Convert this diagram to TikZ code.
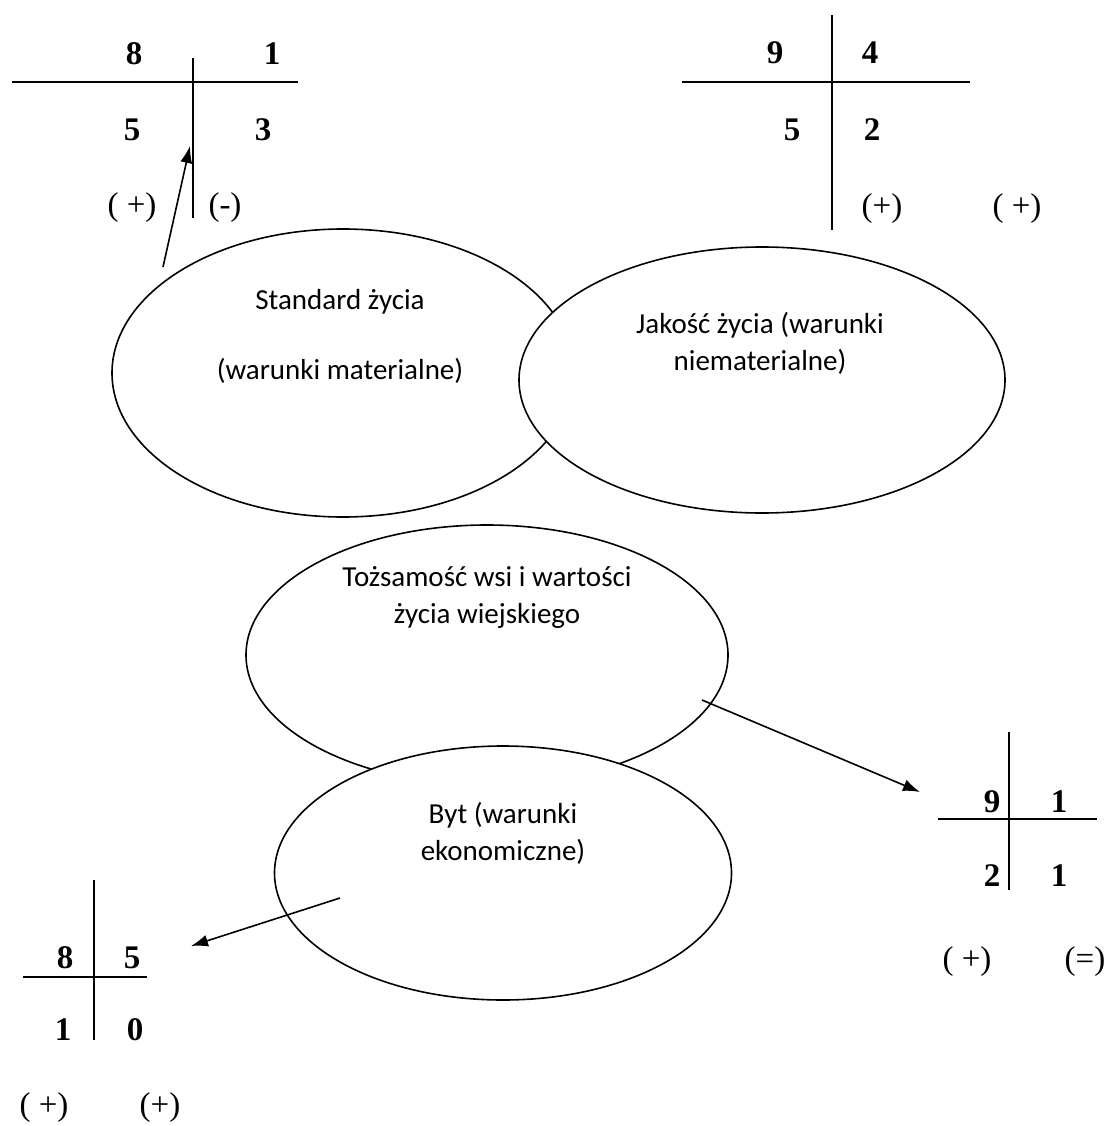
\documentclass[tikz,border=0pt]{standalone}
\usepackage{fontspec}
\setmainfont{Liberation Serif}
\newfontfamily\ovalfont{Carlito}
\usetikzlibrary{arrows.meta,shapes.geometric}
\tikzset{
  ovalshape/.style={ellipse, draw=black, line width=1.6pt, fill=white,
    inner sep=0pt},
  ovaltext/.style={align=center, inner sep=0pt,
    font=\ovalfont\fontsize{29}{37}\selectfont},
  chartline/.style={line width=1.6pt, draw=black},
  chartnum/.style={inner sep=0pt, font=\fontsize{33}{33}\selectfont\bfseries},
  chartsign/.style={inner sep=0pt, font=\fontsize{33}{33}\selectfont},
  linkarrow/.style={-{Latex[length=17pt,width=12pt]}, line width=1.6pt,
    draw=black}
}

\begin{document}
\begin{tikzpicture}[x=1pt, y=-1pt]
  \useasboundingbox (0,0) rectangle (1110,1126);

  \node[ovalshape, minimum width=462pt, minimum height=288pt] (standard)
    at (343,373) {};
  \node[ovalshape, minimum width=486pt, minimum height=266pt] (jakosc)
    at (762,380) {};
  \node[ovalshape, minimum width=482pt, minimum height=260pt] (tozsamosc)
    at (487,655) {};
  \node[ovalshape, minimum width=457pt, minimum height=254pt] (byt)
    at (503,873) {};

  \node[ovaltext] (standardtxt) at (340,336)
    {Standard życia\\[33pt](warunki materialne)};
  \node[ovaltext] (jakosctxt) at (760,343)
    {Jakość życia (warunki\\niematerialne)};
  \node[ovaltext] (tozsamosctxt) at (487,597)
    {Tożsamość wsi i wartości\\życia wiejskiego};
  \node[ovaltext] (byttxt) at (503,833)
    {Byt (warunki\\ekonomiczne)};

  % tabela lewa gorna
  \draw[chartline] (12,82) -- (298,82);
  \draw[chartline] (193,58) -- (193,218);
  \node[chartnum] (ltA) at (134,54) {8};
  \node[chartnum] (ltB) at (272,54) {1};
  \node[chartnum] (ltC) at (132,130) {5};
  \node[chartnum] (ltD) at (263,130) {3};
  \node[chartsign] (ltplus) at (132,208) {( +)};
  \node[chartsign] (ltminus) at (225,208) {(-)};

  % tabela prawa gorna
  \draw[chartline] (682,82) -- (970,82);
  \draw[chartline] (832,15) -- (832,230);
  \node[chartnum] (rtA) at (775,53) {9};
  \node[chartnum] (rtB) at (870,53) {4};
  \node[chartnum] (rtC) at (792,130) {5};
  \node[chartnum] (rtD) at (872,130) {2};
  \node[chartsign] (rtplus) at (882,209) {(+)};
  \node[chartsign] (rtplusb) at (1017,209) {( +)};

  % tabela prawa dolna
  \draw[chartline] (938,819) -- (1097,819);
  \draw[chartline] (1009,732) -- (1009,890);
  \node[chartnum] (rbA) at (992,802) {9};
  \node[chartnum] (rbB) at (1059,802) {1};
  \node[chartnum] (rbC) at (992,876) {2};
  \node[chartnum] (rbD) at (1059,876) {1};
  \node[chartsign] (rbplus) at (967,962) {( +)};
  \node[chartsign] (rbeq) at (1085,962) {(=)};

  % tabela lewa dolna
  \draw[chartline] (23,977) -- (147,977);
  \draw[chartline] (94,880) -- (94,1040);
  \node[chartnum] (lbA) at (65,958) {8};
  \node[chartnum] (lbB) at (132,958) {5};
  \node[chartnum] (lbC) at (63,1030) {1};
  \node[chartnum] (lbD) at (135,1030) {0};
  \node[chartsign] (lbplus) at (44,1108) {( +)};
  \node[chartsign] (lbplusb) at (160,1108) {(+)};

  \coordinate (standardtail) at (163,267);
  \coordinate (lttip) at (190,146);
  \coordinate (tozsamosctail) at (702,700);
  \coordinate (rbtip) at (920,792);
  \coordinate (byttail) at (340,898);
  \coordinate (lbtip) at (191,946);
  \draw[linkarrow] (standardtail) -- (lttip);
  \draw[linkarrow] (tozsamosctail) -- (rbtip);
  \draw[linkarrow] (byttail) -- (lbtip);
\end{tikzpicture}
\end{document}
